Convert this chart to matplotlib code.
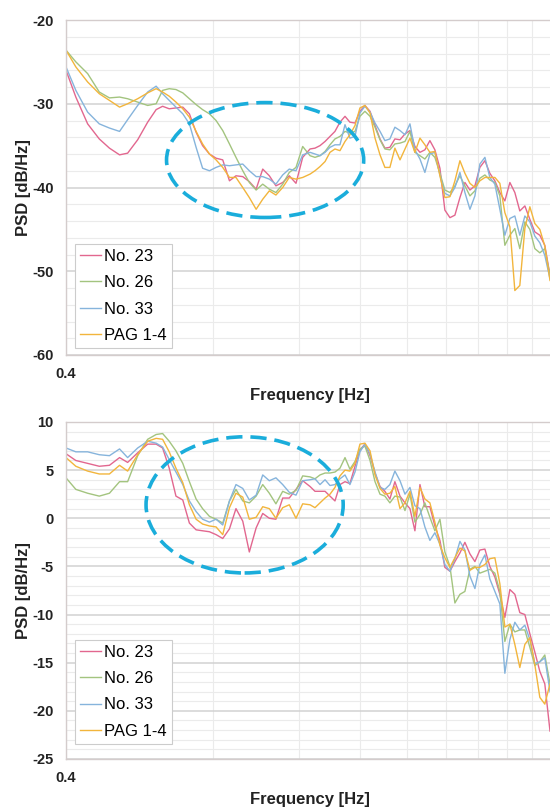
import matplotlib.pyplot as plt
from matplotlib.patches import Ellipse
from matplotlib.ticker import FixedLocator, MultipleLocator, NullFormatter, FuncFormatter

plt.rcParams['font.family'] = ['Liberation Sans', 'DejaVu Sans']
plt.rcParams['axes.unicode_minus'] = False

# frequency grid [Hz]
freq = [0.400, 0.419, 0.443, 0.468, 0.491, 0.515, 0.535, 0.561, 0.588, 0.612,
        0.631, 0.651, 0.672, 0.694, 0.716, 0.739, 0.762, 0.787, 0.812, 0.838,
        0.865, 0.892, 0.921, 0.950, 0.981, 1.012, 1.044, 1.077, 1.112, 1.147,
        1.184, 1.222,
        1.265, 1.295, 1.326, 1.358, 1.390, 1.423, 1.457, 1.492, 1.527, 1.564,
        1.601, 1.639, 1.679, 1.719, 1.760, 1.801, 1.844, 1.888, 1.934, 1.980,
        2.027, 2.075, 2.125, 2.175, 2.227, 2.280, 2.335, 2.390, 2.448, 2.506,
        2.566, 2.627, 2.690, 2.754, 2.819, 2.887, 2.955, 3.026, 3.098, 3.172,
        3.248, 3.325, 3.404, 3.486, 3.569, 3.654, 3.741, 3.830, 3.925]

labels = ['No. 23', 'No. 26', 'No. 33', 'PAG 1-4']
colors = ['#E2678F', '#A3C47F', '#86B4DC', '#F2B53C']

# upper panel PSD [dB/Hz]
top_no23 = [-26.0, -29.2, -32.4, -34.2, -35.3, -36.1, -35.9, -34.3, -32.2, -30.7,
            -30.3, -30.6, -30.5, -30.4, -31.2, -33.4, -35.0, -36.0, -36.5, -36.7,
            -39.2, -38.6, -38.7, -39.3, -40.2, -37.8, -38.6, -39.8, -39.4, -38.6,
            -39.5, -36.4,
            -35.4, -35.3, -35.0, -34.5, -33.9, -33.3, -32.2, -31.5, -32.2, -32.3,
            -30.9, -30.2, -30.9, -32.6, -34.2, -35.3, -35.2, -34.2, -34.3, -33.6,
            -33.2, -35.1, -35.8, -35.5, -34.4, -35.5, -37.7, -42.7, -43.6, -43.3,
            -41.2, -39.4, -40.3, -39.8, -37.6, -36.8, -38.3, -39.2, -40.6, -41.6,
            -39.4, -40.6, -42.8, -42.2, -43.8, -45.3, -45.7, -46.9, -50.5]
top_no26 = [-23.6, -25.0, -26.4, -28.6, -29.3, -29.2, -29.4, -29.8, -30.2, -30.0,
            -28.4, -28.2, -28.3, -28.7, -29.4, -30.1, -30.7, -31.2, -32.0, -33.2,
            -34.8, -36.4, -38.0, -39.4, -40.3, -39.6, -40.2, -40.6, -39.6, -38.2,
            -37.6, -35.1,
            -36.2, -36.4, -36.2, -35.7, -34.9, -34.2, -33.9, -33.3, -33.5, -33.3,
            -31.5, -30.9, -31.5, -32.8, -34.3, -35.4, -35.5, -34.8, -34.7, -34.5,
            -33.3, -35.8, -36.2, -36.6, -35.8, -36.4, -38.3, -40.3, -40.6, -39.8,
            -38.6, -39.8, -41.0, -40.4, -38.9, -38.5, -39.1, -39.4, -41.0, -46.9,
            -45.7, -44.9, -47.3, -44.1, -45.0, -47.3, -47.8, -47.3, -50.5]
top_no33 = [-25.6, -28.4, -31.0, -32.4, -32.9, -33.3, -31.9, -30.2, -28.6, -27.9,
            -28.8, -29.6, -30.4, -31.2, -32.4, -35.2, -37.7, -38.0, -37.6, -37.3,
            -37.4, -37.3, -37.2, -38.0, -38.7, -38.7, -39.0, -39.6, -38.5, -37.8,
            -38.0, -36.1,
            -35.8, -36.0, -36.2, -35.8, -35.2, -34.9, -34.9, -32.5, -34.1, -33.9,
            -31.1, -30.3, -31.0, -32.3, -33.3, -34.4, -34.2, -32.8, -33.2, -33.7,
            -32.4, -35.5, -36.6, -38.2, -36.0, -35.8, -38.5, -40.7, -41.0, -40.0,
            -38.2, -40.6, -42.6, -41.0, -37.2, -36.4, -38.8, -39.6, -42.6, -45.7,
            -43.7, -43.4, -45.7, -43.4, -44.1, -45.8, -46.6, -48.1, -50.9]
top_pag = [-23.6, -25.6, -27.4, -28.8, -29.6, -30.4, -30.0, -29.4, -28.7, -28.2,
           -28.6, -29.1, -29.8, -30.6, -31.6, -33.3, -34.8, -36.0, -36.7, -37.6,
           -38.8, -38.8, -40.0, -41.2, -42.6, -41.4, -40.4, -40.9, -40.0, -38.8,
           -39.0, -38.8,
           -38.4, -38.0, -37.5, -36.9, -35.8, -35.4, -35.6, -34.5, -33.7, -32.6,
           -30.5, -30.2, -31.1, -34.1, -36.1, -37.6, -37.6, -35.3, -36.7, -35.4,
           -34.1, -35.8, -34.1, -34.9, -35.8, -35.7, -38.6, -41.2, -41.1, -39.2,
           -36.8, -38.3, -39.5, -40.0, -39.2, -38.8, -38.8, -38.8, -39.5, -43.0,
           -44.7, -52.3, -51.7, -44.9, -42.3, -44.3, -45.0, -47.0, -51.1]

# lower panel PSD [dB/Hz]
bot_no23 = [6.7, 6.0, 5.7, 5.4, 5.5, 6.3, 5.8, 6.8, 7.7, 7.7,
            7.3, 5.2, 2.3, 1.9, -0.5, -1.2, -1.3, -1.4, -1.7, -2.1,
            -1.1, 1.0, -0.3, -3.5, -1.0, 0.5, 0.0, -0.1, 2.1, 2.1,
            3.0, 3.9,
            3.3, 2.8, 2.8, 2.8, 2.3, 1.8, 3.5, 3.8, 3.6, 5.4,
            7.1, 7.7, 6.5, 4.7, 3.3, 2.8, 2.0, 3.8, 2.3, 1.6,
            1.0, -1.3, 3.5, 1.2, 1.2, -0.8, -2.3, -5.1, -5.5, -4.5,
            -3.6, -2.5, -3.7, -4.5, -3.3, -3.2, -5.0, -6.1, -7.9, -10.3,
            -7.4, -7.9, -9.8, -10.0, -12.0, -13.9, -15.9, -17.2, -22.1]
bot_no26 = [4.2, 3.0, 2.6, 2.3, 2.6, 3.8, 3.8, 6.5, 8.2, 8.7,
            8.8, 8.0, 7.0, 5.7, 3.8, 2.0, 1.0, 0.2, -0.1, -0.5,
            1.8, 3.0, 1.8, 1.6, 2.3, 3.5, 2.6, 1.5, 2.8, 2.5,
            2.9, 4.4,
            4.3, 4.1, 4.5, 4.7, 4.7, 4.8, 5.2, 6.3, 5.1, 5.9,
            7.2, 7.5, 6.0, 3.8, 2.5, 2.3, 1.6, 2.3, 2.2, 0.8,
            2.5, -0.4, 0.4, 1.6, 0.1, -1.3, -0.1, -3.5, -5.0, -8.8,
            -7.9, -7.6, -5.3, -5.0, -5.7, -5.5, -5.3, -5.7, -7.6, -12.8,
            -11.0, -11.8, -11.6, -11.6, -13.4, -15.3, -14.9, -14.2, -17.2]
bot_no33 = [7.3, 6.9, 6.9, 6.6, 6.5, 7.2, 6.3, 7.3, 8.0, 7.8,
            7.4, 6.1, 4.8, 3.5, 1.8, 0.7, -0.1, -0.4, -0.1, -0.7,
            1.8, 3.5, 3.1, 1.9, 2.4, 4.5, 3.9, 4.2, 3.5, 2.7,
            2.4, 3.9,
            4.0, 4.1, 3.5, 4.0, 3.4, 3.5, 4.1, 4.5, 3.5, 4.8,
            6.9, 7.7, 6.7, 4.8, 3.2, 3.0, 3.5, 4.9, 3.9, 2.5,
            3.2, 1.3, 1.0, -0.9, -2.3, -1.5, -2.7, -4.8, -5.5, -4.2,
            -2.4, -3.3, -6.0, -7.3, -4.8, -3.8, -6.3, -7.6, -8.9, -16.1,
            -12.6, -10.8, -11.6, -11.1, -12.6, -15.1, -14.9, -14.5, -18.0]
bot_pag = [6.3, 5.4, 4.9, 4.6, 4.6, 5.5, 4.9, 6.6, 8.0, 8.3,
           8.2, 6.9, 5.2, 3.7, 1.4, -0.1, -0.6, -0.8, -0.9, -1.7,
           1.1, 2.6, 2.2, -0.1, 0.1, 1.2, 1.0, 0.0, 1.1, 1.4,
           0.0, 1.5,
           1.4, 1.1, 1.6, 2.1, 2.5, 3.2, 4.4, 5.0, 4.9, 5.7,
           7.7, 7.8, 7.0, 4.5, 3.1, 2.5, 2.6, 3.3, 1.0, 1.6,
           2.8, 0.2, 3.2, 2.0, 1.6, -0.4, -2.8, -4.1, -5.1, -4.1,
           -3.1, -3.4, -5.4, -5.1, -5.1, -4.8, -4.2, -4.1, -6.8, -11.3,
           -11.0, -13.1, -15.5, -13.1, -12.4, -15.2, -18.6, -19.3, -17.2]

minor_freqs = [0.8, 1.2, 1.6, 2.0, 2.4, 2.8, 3.2, 3.6]
ell_color = '#1AADDB'


def setup(ax, ylim, major, minor):
    ax.set_xscale('log')
    ax.set_xlim(0.4, 4)
    ax.set_ylim(*ylim)
    ax.xaxis.set_major_locator(FixedLocator([0.4, 4]))
    ax.xaxis.set_major_formatter(FuncFormatter(lambda v, p: f'{v:g}'))
    ax.xaxis.set_minor_locator(FixedLocator(minor_freqs))
    ax.xaxis.set_minor_formatter(NullFormatter())
    ax.yaxis.set_major_locator(MultipleLocator(major))
    ax.yaxis.set_minor_locator(MultipleLocator(minor))
    ax.set_axisbelow(True)
    ax.grid(which='major', axis='y', color='#d2d2d2', lw=1.1)
    ax.grid(which='minor', axis='y', color='#ebebeb', lw=0.8)
    ax.grid(which='both', axis='x', color='#ebebeb', lw=0.8)
    ax.tick_params(which='both', length=0)
    ax.tick_params(axis='y', pad=9, labelsize=10.5, labelcolor='#222222')
    ax.tick_params(axis='x', pad=9, labelsize=10.5, labelcolor='#222222')
    for lbl in ax.get_xticklabels() + ax.get_yticklabels():
        lbl.set_fontweight('bold')
    for s in ax.spines.values():
        s.set_color('#d4cccc')
        s.set_linewidth(1.0)
    ax.set_xlabel('Frequency [Hz]', fontsize=12, fontweight='bold', color='#222222')
    ax.xaxis.set_label_coords(0.5, -0.098)
    ax.set_ylabel('PSD [dB/Hz]', fontsize=12, fontweight='bold', color='#222222')
    ax.yaxis.set_label_coords(-0.072, 0.5)


fig = plt.figure(figsize=(5.5, 8.07), dpi=100)
ax1 = fig.add_axes([0.12, 0.5601, 0.8873, 0.4151])
ax2 = fig.add_axes([0.12, 0.0595, 0.8873, 0.4176])

panels = [
    (ax1, [top_no23, top_no26, top_no33, top_pag], (-60, -20), 10, 2,
     (0.408, 0.582, 0.404, 0.343), (0.018, 0.021)),
    (ax2, [bot_no23, bot_no26, bot_no33, bot_pag], (-25, 10), 5, 1,
     (0.366, 0.754, 0.404, 0.404), (0.018, 0.045)),
]

for ax, series, ylim, major, minor, ell, leg_pos in panels:
    setup(ax, ylim, major, minor)
    for vals, lab, col in zip(series, labels, colors):
        ax.plot(freq, vals, color=col, lw=1.0, label=lab)
    cx, cy, w, h = ell
    ax.add_patch(Ellipse((cx, cy), w, h, transform=ax.transAxes, fill=False,
                         edgecolor=ell_color, lw=2.6, linestyle=(0, (4.5, 2.2)),
                         zorder=5))
    leg = ax.legend(loc='lower left', bbox_to_anchor=leg_pos, fontsize=12,
                    frameon=True, fancybox=False, framealpha=1,
                    edgecolor='#cccccc', borderpad=0.3, labelspacing=0.68,
                    handlelength=1.3, handletextpad=0.15, borderaxespad=0)
    leg.get_frame().set_linewidth(0.8)

fig.savefig('out.png', dpi=100)
